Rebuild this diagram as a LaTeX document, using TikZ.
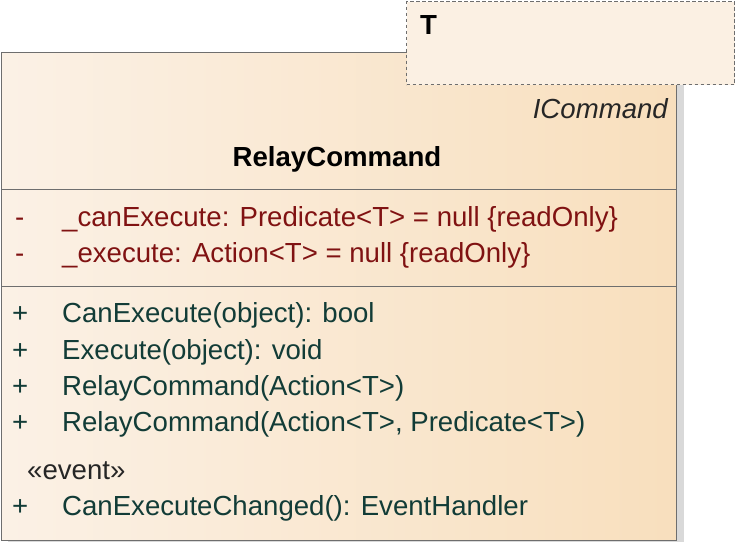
\documentclass[tikz,border=0pt]{standalone}
\usepackage{fontspec}
\setmainfont{Liberation Sans}
\definecolor{shA}{HTML}{F3E5D3}
\definecolor{shB}{HTML}{FBF2E8}
\definecolor{shC}{HTML}{F7D6A9}
\definecolor{tfill}{HTML}{FBF0E3}
\definecolor{attrc}{RGB}{128,18,18}
\definecolor{opc}{RGB}{18,60,55}
\definecolor{edge}{HTML}{6E6E6E}
\pgfdeclarehorizontalshading{boxshade}{100bp}{color(0bp)=(shA); color(22bp)=(shB); color(100bp)=(shC)}
\begin{document}
\begin{tikzpicture}[x=1pt,y=-1pt,
  txt/.style={inner sep=0pt,font=\fontsize{27.6}{32}\selectfont},
  attr/.style={txt,anchor=base west,text=attrc},
  oper/.style={txt,anchor=base west,text=opc},
  divider/.style={draw=edge,line width=0.9pt}]
\useasboundingbox (0,0) rectangle (736,542);
% shadow
\fill[black!15] (676,60) rectangle (684,542);
\fill[black!15] (8,540) rectangle (684,542);
% main class box
\node[draw=edge,line width=1.3pt,shading=boxshade,minimum width=675pt,minimum height=488pt,anchor=north west,inner sep=0pt] (cls) at (1,52) {};
\draw[divider] (1,189) -- (676,189);
\draw[divider] (1,286) -- (676,286);
% template parameter box
\node[draw=edge,dash pattern=on 3.5pt off 2.5pt,line width=1pt,fill=tfill,minimum width=328pt,minimum height=83pt,anchor=north west,inner sep=0pt] (tpl) at (406,1) {};
\node[txt,anchor=base west,font=\fontsize{27.6}{32}\selectfont\bfseries] (tT) at (420,34) {T};
% header
\node[txt,anchor=base east,font=\fontsize{27.6}{32}\selectfont\itshape,text=black!85] (iface) at (668,118) {ICommand};
\node[txt,anchor=base,font=\fontsize{27.6}{32}\selectfont\bfseries] (name) at (337,166) {RelayCommand};
% attributes
\node[attr] (v1) at (15,226) {-};
\node[attr] (a1) at (62,226) {\_canExecute: Predicate<T> = null \{readOnly\}};
\node[attr] (v2) at (15,262) {-};
\node[attr] (a2) at (62,262) {\_execute: Action<T> = null \{readOnly\}};
% operations
\node[oper] (p1) at (12,322) {+};
\node[oper] (o1) at (62,322) {CanExecute(object): bool};
\node[oper] (p2) at (12,359) {+};
\node[oper] (o2) at (62,359) {Execute(object): void};
\node[oper] (p3) at (12,395) {+};
\node[oper] (o3) at (62,395) {RelayCommand(Action<T>)};
\node[oper] (p4) at (12,431) {+};
\node[oper] (o4) at (62,431) {RelayCommand(Action<T>, Predicate<T>)};
\node[txt,anchor=base west,text=black!85] (ev) at (27,479) {«event»};
\node[oper] (p5) at (12,515) {+};
\node[oper] (o5) at (62,515) {CanExecuteChanged(): EventHandler};
\end{tikzpicture}
\end{document}
